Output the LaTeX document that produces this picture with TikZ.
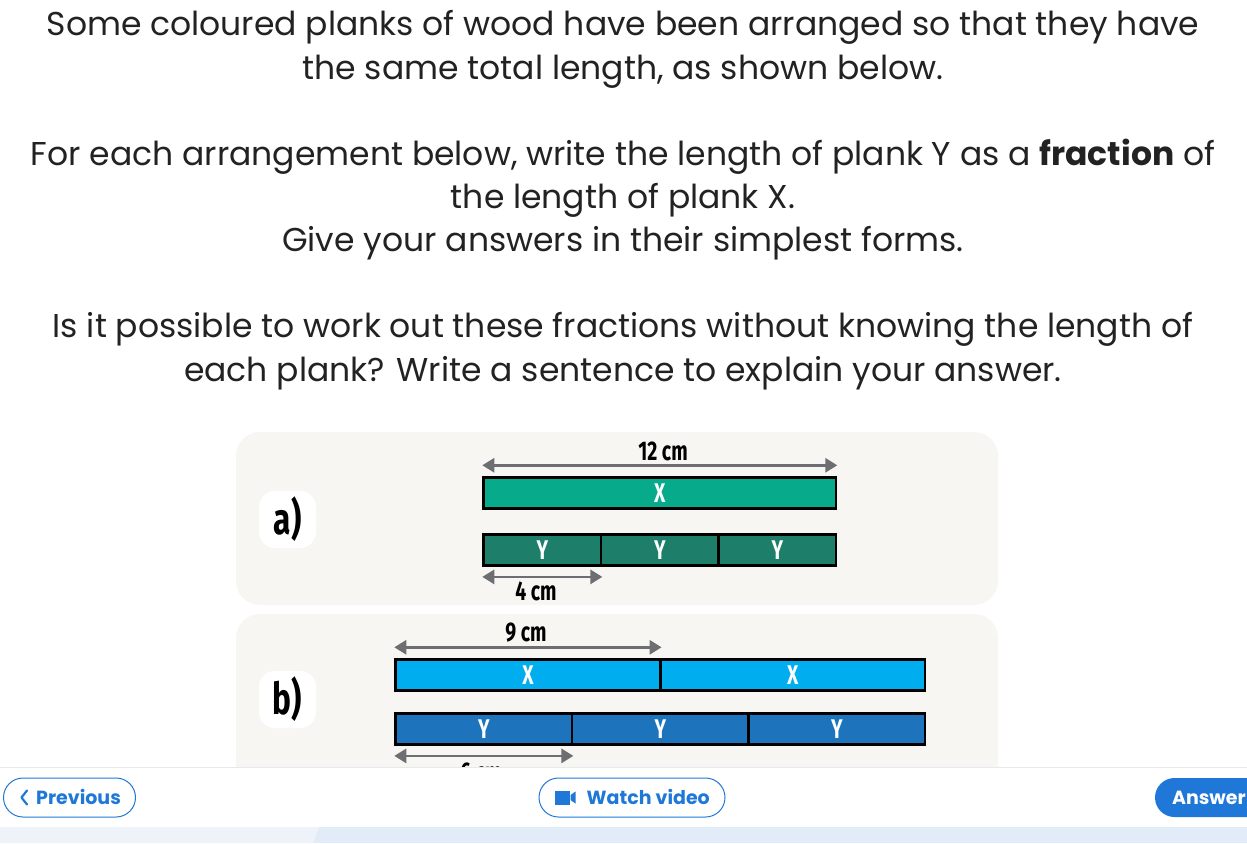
\documentclass[tikz,border=0pt]{standalone}
\usepackage{fontspec}
\setmainfont{Poppins}
\newfontfamily\condf[FakeStretch=0.72]{Fira Sans}
\usetikzlibrary{arrows.meta}
\definecolor{panel}{HTML}{F7F6F2}
\definecolor{gX}{HTML}{07AB8B}
\definecolor{gY}{HTML}{1D7E6A}
\definecolor{bX}{HTML}{00AEEF}
\definecolor{bY}{HTML}{1E74BC}
\definecolor{dimgray}{HTML}{6D6E71}
\definecolor{btn}{HTML}{1F78D8}
\definecolor{txt}{HTML}{222222}
\definecolor{barline}{HTML}{E6EAF0}
\definecolor{bl1}{HTML}{EEF3FA}
\definecolor{bl2}{HTML}{E2ECF8}
\tikzset{
  maintext/.style={anchor=base, inner sep=0, text=txt, font=\fontsize{33}{38}\selectfont},
  plank/.style={draw=black, line width=2.6pt, anchor=north west, inner sep=0, minimum height=31pt, text=white, font=\condf\bfseries\fontsize{27}{28}\selectfont},
  dimline/.style={draw=dimgray, line width=2.8pt, {Triangle[length=12pt,width=14pt]}-{Triangle[length=12pt,width=14pt]}},
  dimlabel/.style={inner sep=0, font=\condf\bfseries\fontsize{27}{28}\selectfont},
  lbl/.style={fill=white, rounded corners=16pt, minimum width=57pt, minimum height=57pt, inner sep=0, font=\condf\bfseries\fontsize{44}{46}\selectfont},
  btnout/.style={draw=btn, line width=1pt, rounded corners=19.5pt, minimum height=39pt, inner sep=0, fill=white},
  btnfill/.style={fill=btn, rounded corners=19.5pt, minimum height=39pt, inner sep=0},
  btntext/.style={inner sep=0, anchor=base west, font=\bfseries\fontsize{19}{22}\selectfont}
}
\begin{document}
\begin{tikzpicture}[x=1pt,y=-1pt]
\useasboundingbox (0,0) rectangle (1247,843);
\fill[white] (0,0) rectangle (1247,843);
% text
\node[maintext] (t1) at (623,36) {Some coloured planks of wood have been arranged so that they have};
\node[maintext] (t2) at (623,80) {the same total length, as shown below.};
\node[maintext] (t3) at (623,165) {For each arrangement below, write the length of plank Y as a \textbf{fraction} of};
\node[maintext] (t4) at (623,208) {the length of plank X.};
\node[maintext] (t5) at (623,251) {Give your answers in their simplest forms.};
\node[maintext] (t6) at (623,337) {Is it possible to work out these fractions without knowing the length of};
\node[maintext] (t7) at (623,381) {each plank? Write a sentence to explain your answer.};
% panels
\fill[panel, rounded corners=24pt] (236,432) rectangle (998,605);
\fill[panel, rounded corners=24pt] (236,614) rectangle (998,820);
\node[lbl] (la) at (287.5,519.5) {a)};
\node[lbl] (lb) at (287.5,699.5) {b)};
% panel a planks
\node[plank, fill=gX, minimum width=352.4pt] (Xa) at (482.3,476.3) {X};
\node[plank, fill=gY, minimum width=117.47pt] (Ya1) at (482.3,533.3) {Y};
\node[plank, fill=gY, minimum width=117.47pt] (Ya2) at (599.77,533.3) {Y};
\node[plank, fill=gY, minimum width=117.46pt] (Ya3) at (717.24,533.3) {Y};
\draw[dimline] ([yshift=11pt]Xa.north west) -- ([yshift=11pt]Xa.north east);
\node[dimlabel] (l12) at (663,451) {12 cm};
\draw[dimline] ([yshift=-10pt]Ya1.south west) -- ([yshift=-10pt]Ya1.south east);
\node[dimlabel] (l4) at (536,591) {4 cm};
% panel b planks
\node[plank, fill=bX, minimum width=264.7pt] (Xb1) at (394.3,658.3) {X};
\node[plank, fill=bX, minimum width=264.7pt] (Xb2) at (659,658.3) {X};
\node[plank, fill=bY, minimum width=176.47pt] (Yb1) at (394.3,712.3) {Y};
\node[plank, fill=bY, minimum width=176.47pt] (Yb2) at (570.77,712.3) {Y};
\node[plank, fill=bY, minimum width=176.46pt] (Yb3) at (747.24,712.3) {Y};
\draw[dimline] ([yshift=11pt]Xb1.north west) -- ([yshift=11pt]Xb1.north east);
\node[dimlabel] (l9) at (526,633) {9 cm};
\draw[dimline] ([yshift=-10pt]Yb1.south west) -- ([yshift=-10pt]Yb1.south east);
\node[dimlabel] (l6) at (481,772) {6 cm};
% bottom bar
\fill[white] (0,767) rectangle (1247,827);
\draw[barline, line width=1pt] (0,767.5) -- (1247,767.5);
\fill[bl2] (0,827) rectangle (1247,843);
\fill[bl1] (0,827) -- (319,827) -- (313,843) -- (0,843) -- cycle;
% buttons
\node[btnout, minimum width=132pt] (prev) at (69.5,797.5) {};
\draw[btn, line width=2.2pt, line cap=round, line join=round] ([xshift=24pt,yshift=7pt]prev.west) -- ([xshift=18.5pt]prev.west) -- ([xshift=24pt,yshift=-7pt]prev.west);
\node[btntext, text=btn] (prevt) at ([xshift=33pt,yshift=-7pt]prev.west) {Previous};
\node[btnout, minimum width=186pt] (watch) at (632,797.5) {};
\fill[btn] ([xshift=16pt,yshift=7pt]watch.west) rectangle ([xshift=31pt,yshift=-7pt]watch.west);
\fill[btn] ([xshift=32pt,yshift=2.5pt]watch.west) -- ([xshift=37pt,yshift=6pt]watch.west) -- ([xshift=37pt,yshift=-6pt]watch.west) -- ([xshift=32pt,yshift=-2.5pt]watch.west) -- cycle;
\node[btntext, text=btn] (watcht) at ([xshift=48pt,yshift=-7pt]watch.west) {Watch video};
\node[btnfill, minimum width=130pt] (ans) at (1220,797.5) {};
\node[btntext, text=white] (anst) at ([xshift=17pt,yshift=-7pt]ans.west) {Answer};
\end{tikzpicture}
\end{document}
